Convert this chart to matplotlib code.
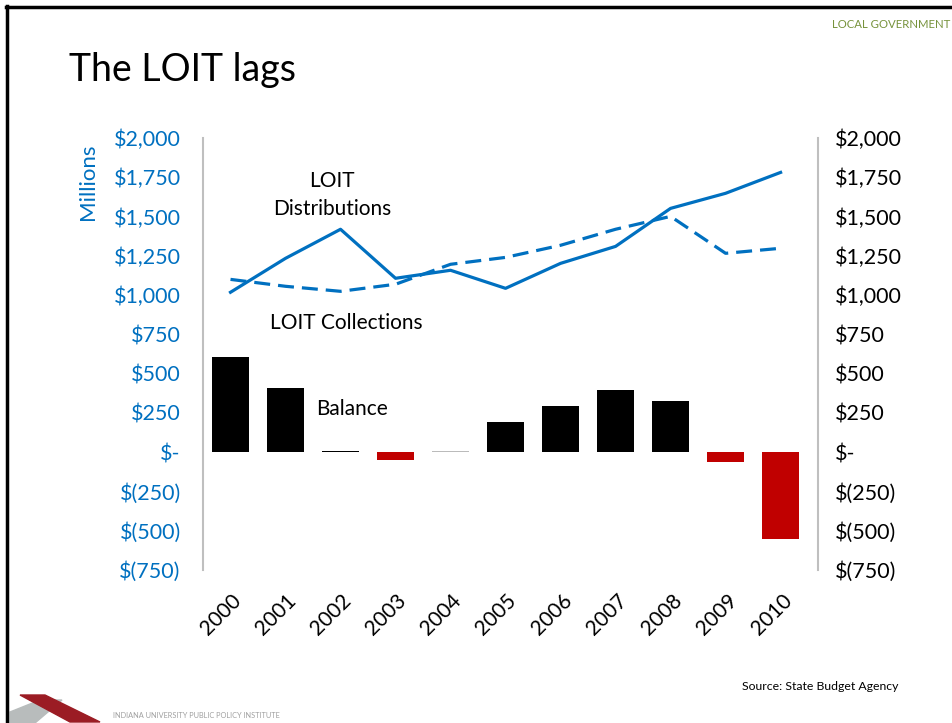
import matplotlib
matplotlib.use("Agg")
import matplotlib.pyplot as plt
from matplotlib.patches import Polygon
from matplotlib.lines import Line2D
import matplotlib.transforms as mtransforms

plt.rcParams['font.family'] = ['Lato', 'DejaVu Sans']

# data ($ millions)
years = ['2000', '2001', '2002', '2003', '2004', '2005', '2006', '2007', '2008', '2009', '2010']
distributions = [1018, 1234, 1419, 1107, 1158, 1043, 1202, 1310, 1552, 1648, 1781]
collections = [1100, 1056, 1024, 1069, 1196, 1240, 1317, 1419, 1501, 1266, 1298]
balance = [604, 407, 10, -50, 6, 191, 293, 394, 324, -60, -553]
yticks = [2000, 1750, 1500, 1250, 1000, 750, 500, 250, 0, -250, -500, -750]
ytick_labels = ['$2,000', '$1,750', '$1,500', '$1,250', '$1,000', '$750', '$500',
                '$250', '$-', '$(250)', '$(500)', '$(750)']

BLUE = '#0070C0'
RED = '#C00000'
W, H = 953, 723

fig = plt.figure(figsize=(W / 100, H / 100), dpi=100)

def fx(x):
    return x / W

def fy(y):
    return 1 - y / H

ax = fig.add_axes([fx(203), fy(570), (818 - 203) / W, (570 - 138) / H])
x = list(range(len(years)))

bar_colors = [RED if b < 0 else 'black' for b in balance]
bar_colors[4] = '#BBBBBB'
ax.bar(x, balance, width=0.67, color=bar_colors, zorder=2)
ax.plot(x, distributions, color=BLUE, lw=2.3, zorder=3)
ax.plot(x, collections, color=BLUE, lw=2.3, dashes=(5, 2.5), zorder=3)

ax.set_xlim(-0.5, 10.68)
ax.set_ylim(-750, 2000)
ax.set_yticks(yticks)
ax.set_yticklabels(ytick_labels, color=BLUE, fontsize=15.5)
ax.tick_params(axis='y', length=0, pad=16)
ax.set_xticks(x)
ax.set_xticklabels(years, rotation=45, ha='right', va='center',
                   rotation_mode='anchor', fontsize=15)
ax.tick_params(axis='x', length=0, pad=20)
offset = mtransforms.ScaledTranslation(8 / 100, 0, fig.dpi_scale_trans)
for lab in ax.get_xticklabels():
    lab.set_transform(lab.get_transform() + offset)

for s in ['top', 'bottom']:
    ax.spines[s].set_visible(False)
for s in ['left', 'right']:
    ax.spines[s].set_color('#BFBFBF')
    ax.spines[s].set_linewidth(1.5)

ax2 = ax.twinx()
ax2.set_ylim(-750, 2000)
ax2.set_yticks(yticks)
ax2.set_yticklabels(ytick_labels, color='black', fontsize=15.5)
ax2.tick_params(axis='y', length=0, pad=12)
for s in ax2.spines.values():
    s.set_visible(False)

# series labels
fig.text(fx(332), fy(195), 'LOIT\nDistributions', ha='center', va='center',
         fontsize=15, linespacing=1.5)
fig.text(fx(270), fy(323), 'LOIT Collections', ha='left', va='center', fontsize=15)
fig.text(fx(316), fy(409), 'Balance', ha='left', va='center', fontsize=15)

fig.text(fx(88), fy(182), 'Millions', rotation=90, ha='center', va='center',
         color=BLUE, fontsize=16)

# slide decoration
fig.text(fx(69), fy(70), 'The LOIT lags', ha='left', va='center', fontsize=27)
fig.text(fx(832), fy(24), 'LOCAL GOVERNMENT', ha='left', va='center',
         fontsize=8.2, color='#77933C')
fig.text(fx(742), fy(687), 'Source: State Budget Agency', ha='left', va='center',
         fontsize=8.8)

fig.add_artist(Line2D([fx(7), fx(7)], [fy(6), 0], color='black', lw=2.5,
                      transform=fig.transFigure))
fig.add_artist(Line2D([fx(6), 1], [fy(7), fy(7)], color='black', lw=2.5,
                      transform=fig.transFigure))

# logo
fig.add_artist(Polygon([(fx(10), fy(712)), (fx(40), fy(700)), (fx(62), fy(700)),
                        (fx(35), fy(723)), (fx(10), fy(723))],
                       closed=True, color='#B8BCBC', transform=fig.transFigure))
fig.add_artist(Polygon([(fx(20), fy(695)), (fx(45), fy(695)), (fx(100), fy(722)),
                        (fx(70), fy(722))],
                       closed=True, color='#9B1C24', transform=fig.transFigure))
fig.text(fx(113), fy(716), 'INDIANA UNIVERSITY PUBLIC POLICY INSTITUTE',
         fontsize=5.3, color='#A0A0A0', ha='left', va='center')

fig.savefig('out.png', dpi=100)
